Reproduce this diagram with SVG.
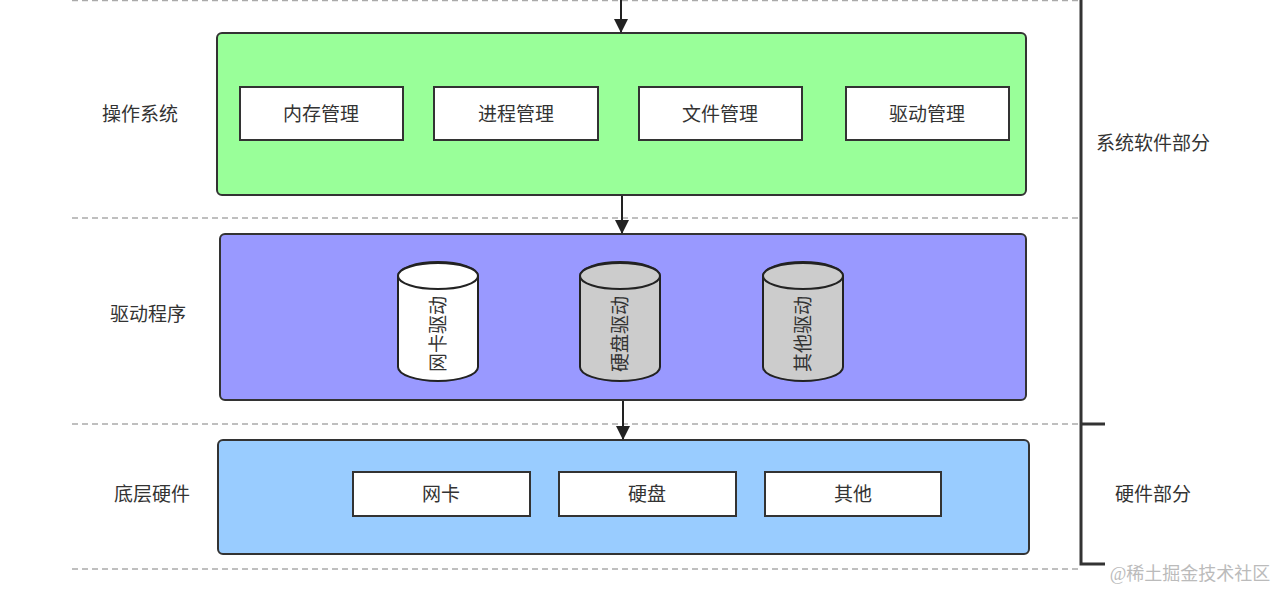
<svg xmlns="http://www.w3.org/2000/svg" width="1276" height="590" viewBox="0 0 1276 590">
<style>
text{font-family:"Liberation Sans","Noto Sans CJK SC",sans-serif;fill:#333;font-size:19px;text-anchor:middle;dominant-baseline:central}
.dash{stroke:#aaa;stroke-width:1.5;stroke-dasharray:6 4;fill:none}
.layer{stroke:#333;stroke-width:2}
.box{fill:#fff;stroke:#333;stroke-width:2}
.cyl{stroke:#222;stroke-width:2}
.conn{stroke:#222;stroke-width:2;fill:none}
.brk{stroke:#333;stroke-width:3;fill:none}
</style>
<defs>
<marker id="ah2" markerWidth="14" markerHeight="14" refX="13" refY="7" orient="auto" markerUnits="userSpaceOnUse" viewBox="0 0 14 14">
<path d="M0,0 L14,7 L0,14 z" fill="#222"/>
</marker>
</defs>
<rect width="1276" height="590" fill="#fff"/>
<g id="guides">
<line class="dash" x1="72" y1="0.5" x2="1080" y2="0.5"/>
<line class="dash" x1="72" y1="218" x2="1080" y2="218"/>
<line class="dash" x1="72" y1="424" x2="1080" y2="424"/>
<line class="dash" x1="72" y1="569" x2="1080" y2="569"/>
</g>
<g id="os">
<rect class="layer" x="217" y="33" width="809" height="162" rx="5" fill="#99ff99"/>
<text x="140" y="114">操作系统</text>
<g id="mem"><rect class="box" x="240" y="87" width="163" height="53"/><text x="321" y="114">内存管理</text></g>
<g id="proc"><rect class="box" x="434" y="87" width="164" height="53"/><text x="516" y="114">进程管理</text></g>
<g id="file"><rect class="box" x="639" y="87" width="163" height="53"/><text x="720" y="114">文件管理</text></g>
<g id="drvmgr"><rect class="box" x="846" y="87" width="163" height="53"/><text x="927" y="114">驱动管理</text></g>
</g>
<g id="drivers">
<rect class="layer" x="220" y="234" width="806" height="166" rx="5" fill="#9999ff"/>
<text x="148" y="314">驱动程序</text>
<g id="nicdrv">
<path class="cyl" d="M398,276 L398,367 A40,14 0 0 0 478,367 L478,276 A40,14 0 0 0 398,276 Z" fill="#fff"/>
<ellipse class="cyl" cx="438" cy="276" rx="40" ry="13" fill="#fff"/>
<text transform="translate(438,334) rotate(-90)">网卡驱动</text>
</g>
<g id="diskdrv">
<path class="cyl" d="M580,276 L580,367 A40,14 0 0 0 660,367 L660,276 A40,14 0 0 0 580,276 Z" fill="#ccc"/>
<ellipse class="cyl" cx="620" cy="276" rx="40" ry="13" fill="#ccc"/>
<text transform="translate(620,334) rotate(-90)">硬盘驱动</text>
</g>
<g id="otherdrv">
<path class="cyl" d="M763,276 L763,367 A40,14 0 0 0 843,367 L843,276 A40,14 0 0 0 763,276 Z" fill="#ccc"/>
<ellipse class="cyl" cx="803" cy="276" rx="40" ry="13" fill="#ccc"/>
<text transform="translate(803,334) rotate(-90)">其他驱动</text>
</g>
</g>
<g id="hardware">
<rect class="layer" x="218" y="440" width="811" height="114" rx="5" fill="#99ccff"/>
<text x="152" y="494">底层硬件</text>
<g id="nic"><rect class="box" x="353" y="472" width="177" height="44"/><text x="441" y="494">网卡</text></g>
<g id="disk"><rect class="box" x="559" y="472" width="177" height="44"/><text x="647" y="494">硬盘</text></g>
<g id="other"><rect class="box" x="765" y="472" width="176" height="44"/><text x="853" y="494">其他</text></g>
</g>
<g id="connectors">
<line class="conn" x1="621" y1="0" x2="621" y2="32" marker-end="url(#ah2)"/>
<line class="conn" x1="622" y1="196" x2="622" y2="233" marker-end="url(#ah2)"/>
<line class="conn" x1="623" y1="401" x2="623" y2="439" marker-end="url(#ah2)"/>
</g>
<g id="bracket">
<polyline class="brk" points="1081,0 1081,564 1105,564"/>
<line class="brk" x1="1081" y1="424" x2="1105" y2="424"/>
<text x="1153" y="143">系统软件部分</text>
<text x="1153" y="494">硬件部分</text>
</g>
<text x="1190" y="574" style="fill:#bbb;font-size:18px;font-family:'Liberation Serif','Noto Sans CJK SC',serif">@稀土掘金技术社区</text>
</svg>
